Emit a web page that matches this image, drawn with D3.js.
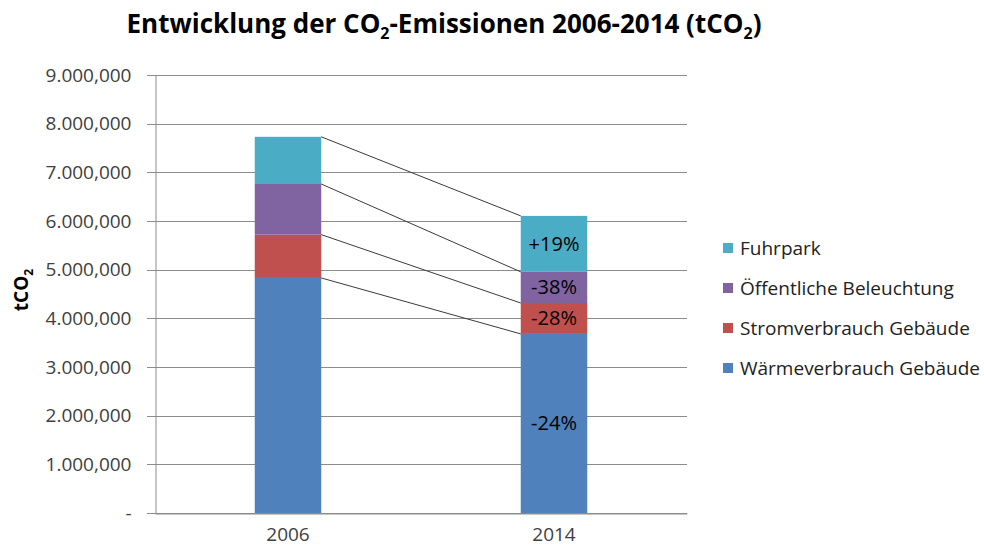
<!DOCTYPE html>
<html>
<head>
<meta charset="utf-8">
<script src="https://cdn.jsdelivr.net/npm/d3@7"></script>
<style>
  body { margin: 0; background: #fff; }
  text { font-family: "Open Sans", sans-serif; }
</style>
</head>
<body>
<div id="chart"></div>
<script>
// data
const years = ["2006", "2014"];
const series = ["Wärmeverbrauch Gebäude", "Stromverbrauch Gebäude", "Öffentliche Beleuchtung", "Fuhrpark"];
const waerme = [4830000, 3680000];
const strom = [890000, 635000];
const beleuchtung = [1040000, 640000];
const fuhrpark = [970000, 1150000];
const changeLabels = ["-24%", "-28%", "-38%", "+19%"];
const yTicks = [0, 1000000, 2000000, 3000000, 4000000, 5000000, 6000000, 7000000, 8000000, 9000000];
const yTickLabels = ["-", "1.000,000", "2.000,000", "3.000,000", "4.000,000", "5.000,000",
                     "6.000,000", "7.000,000", "8.000,000", "9.000,000"];
const colors = ["#4F81BD", "#C0504D", "#8064A2", "#4BACC6"];

const WIDTH = 984, HEIGHT = 551;
const MARGINS = {left: 155, right: 297, top: 75, bottom: 38};

const svg = d3.select("#chart").append("svg")
  .attr("width", WIDTH)
  .attr("height", HEIGHT);

// rows for d3.stack
const rows = years.map((y, i) => ({
  year: y,
  [series[0]]: waerme[i],
  [series[1]]: strom[i],
  [series[2]]: beleuchtung[i],
  [series[3]]: fuhrpark[i]
}));
const stacked = d3.stack().keys(series)(rows);

const x = d3.scaleBand()
  .domain(years)
  .range([MARGINS.left, WIDTH - MARGINS.right])
  .paddingInner(0.75)
  .paddingOuter(0.375);

const y = d3.scaleLinear()
  .domain([0, 9000000])
  .range([HEIGHT - MARGINS.bottom, MARGINS.top]);

// gridlines
svg.append("g")
  .selectAll("line")
  .data(yTicks)
  .enter().append("line")
  .attr("x1", MARGINS.left - 8)
  .attr("x2", WIDTH - MARGINS.right)
  .attr("y1", d => Math.round(y(d)) + 0.5)
  .attr("y2", d => Math.round(y(d)) + 0.5)
  .attr("stroke", "#8c8c8c")
  .attr("stroke-width", 1);

// y axis
const yAxis = d3.axisLeft(y)
  .tickValues(yTicks)
  .tickFormat((d, i) => yTickLabels[i])
  .tickSize(0)
  .tickPadding(24);
const gy = svg.append("g")
  .attr("transform", `translate(${MARGINS.left + 0.5},0)`)
  .call(yAxis);
gy.select(".domain").attr("stroke", "#8c8c8c");
gy.selectAll("text")
  .attr("font-size", 19)
  .attr("fill", "#404040")
  .style("font-family", "'Open Sans', sans-serif");

// x axis
const xAxis = d3.axisBottom(x).tickSize(0).tickPadding(14);
const gx = svg.append("g")
  .attr("transform", `translate(0,${Math.round(y(0)) + 0.5})`)
  .call(xAxis);
gx.select(".domain").attr("stroke", "#8c8c8c");
gx.selectAll("text")
  .attr("font-size", 19)
  .attr("fill", "#404040")
  .style("font-family", "'Open Sans', sans-serif");

// bars
svg.append("g")
  .selectAll("g")
  .data(stacked)
  .enter().append("g")
  .attr("fill", (d, i) => colors[i])
  .selectAll("rect")
  .data(d => d)
  .enter().append("rect")
  .attr("x", d => x(d.data.year))
  .attr("y", d => y(d[1]))
  .attr("width", x.bandwidth())
  .attr("height", d => y(d[0]) - y(d[1]));

// connector lines between the two bars
svg.append("g")
  .selectAll("line")
  .data(stacked)
  .enter().append("line")
  .attr("x1", x(years[0]) + x.bandwidth())
  .attr("y1", d => y(d[0][1]))
  .attr("x2", x(years[1]))
  .attr("y2", d => y(d[1][1]))
  .attr("stroke", "#3a3a3a")
  .attr("stroke-width", 1);

// change labels on the 2014 bar
svg.append("g")
  .selectAll("text")
  .data(stacked)
  .enter().append("text")
  .attr("x", x(years[1]) + x.bandwidth() / 2)
  .attr("y", d => (y(d[1][0]) + y(d[1][1])) / 2)
  .attr("dy", "0.35em")
  .attr("text-anchor", "middle")
  .attr("font-size", 20)
  .attr("fill", "#000")
  .text((d, i) => changeLabels[i]);

// title
const title = svg.append("text")
  .attr("x", 444)
  .attr("y", 33)
  .attr("text-anchor", "middle")
  .attr("font-size", 26)
  .attr("font-weight", "bold")
  .attr("fill", "#000");
title.append("tspan").text("Entwicklung der CO");
title.append("tspan").attr("font-size", 16).attr("dy", 6).text("2");
title.append("tspan").attr("dy", -6).text("-Emissionen 2006-2014 (tCO");
title.append("tspan").attr("font-size", 16).attr("dy", 6).text("2");
title.append("tspan").attr("dy", -6).text(")");

// y axis title
const yTitle = svg.append("text")
  .attr("transform", "translate(28,290) rotate(-90)")
  .attr("text-anchor", "middle")
  .attr("font-size", 19)
  .attr("font-weight", "bold")
  .attr("fill", "#000");
yTitle.append("tspan").text("tCO");
yTitle.append("tspan").attr("font-size", 12).attr("dy", 5).text("2");

// legend, top to bottom reversed
const legend = svg.append("g")
  .selectAll("g")
  .data(series.slice().reverse())
  .enter().append("g")
  .attr("transform", (d, i) => `translate(723,${248 + i * 40})`);
legend.append("rect")
  .attr("x", 0)
  .attr("y", -5)
  .attr("width", 10)
  .attr("height", 10)
  .attr("fill", (d, i) => colors[series.length - 1 - i]);
legend.append("text")
  .attr("x", 17)
  .attr("dy", "0.35em")
  .attr("font-size", 19)
  .attr("fill", "#222")
  .text(d => d);
</script>
</body>
</html>
